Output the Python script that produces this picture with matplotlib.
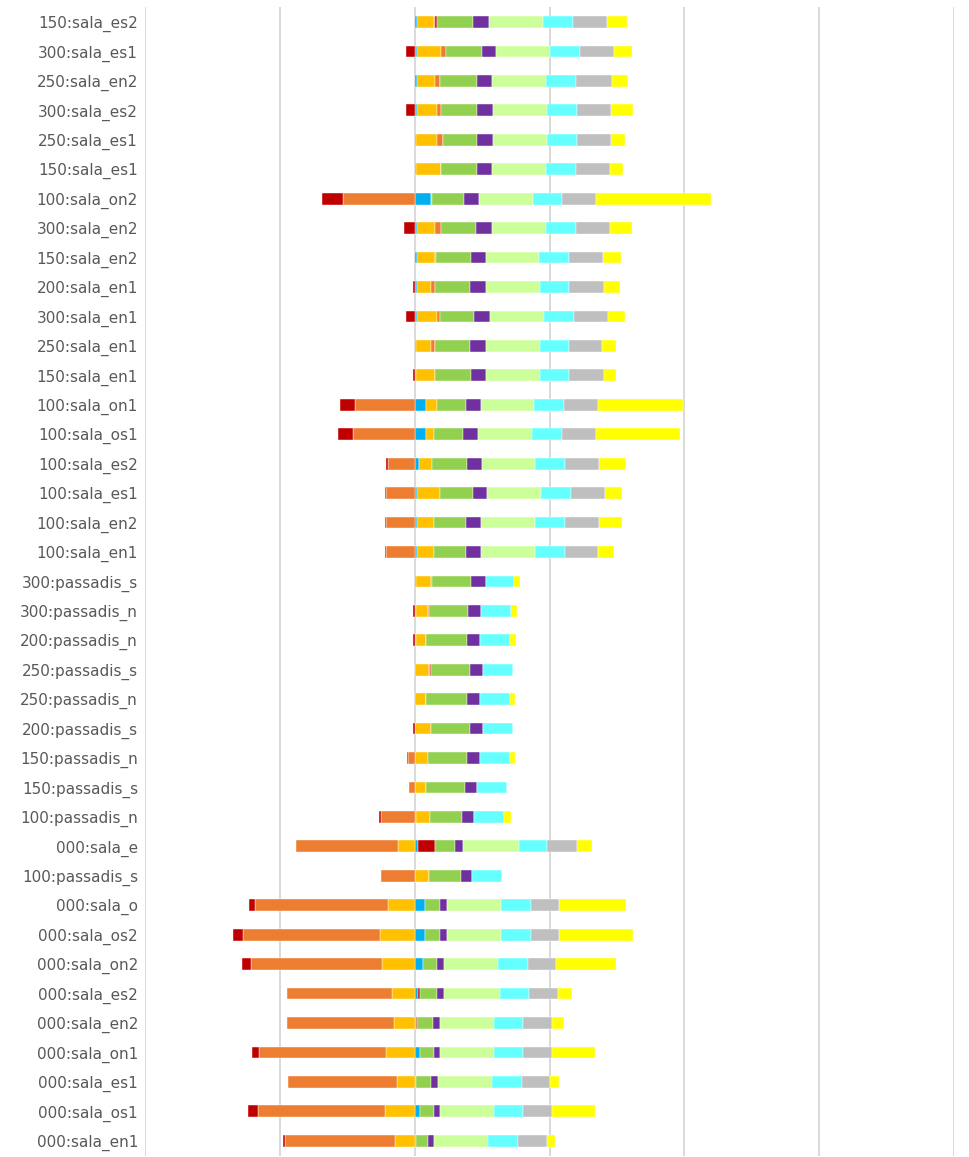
import matplotlib
matplotlib.use("Agg")
import matplotlib.pyplot as plt
import numpy as np

# rows, top to bottom
labels = [
    "150:sala_es2", "300:sala_es1", "250:sala_en2", "300:sala_es2", "250:sala_es1",
    "150:sala_es1", "100:sala_on2", "300:sala_en2", "150:sala_en2", "200:sala_en1",
    "300:sala_en1", "250:sala_en1", "150:sala_en1", "100:sala_on1", "100:sala_os1",
    "100:sala_es2", "100:sala_es1", "100:sala_en2", "100:sala_en1", "300:passadis_s",
    "300:passadis_n", "200:passadis_n", "250:passadis_s", "250:passadis_n", "200:passadis_s",
    "150:passadis_n", "150:passadis_s", "100:passadis_n", "000:sala_e", "100:passadis_s",
    "000:sala_o", "000:sala_os2", "000:sala_on2", "000:sala_es2", "000:sala_en2",
    "000:sala_on1", "000:sala_es1", "000:sala_os1", "000:sala_en1",
]

# series in stacking order (signed values)
s_blue = [0.17, 0.17, 0.17, 0.17, 0.07, 0.07, 1.19, 0.17, 0.17, 0.17,
          0.17, 0.07, 0.07, 0.81, 0.81, 0.30, 0.17, 0.17, 0.17, 0.07,
          0.07, 0.07, 0.0, 0.0, 0.0, 0.0, 0.0, 0.12, 0.22, 0.0,
          0.77, 0.77, 0.62, 0.22, 0.07, 0.42, 0.10, 0.42, 0.10]
s_gold = [1.24, 1.78, 1.36, 1.46, 1.56, 1.88, 0.12, 1.36, 1.31, 1.01,
          1.46, 1.11, 1.43, 0.81, 0.59, 1.01, 1.68, 1.23, 1.23, 1.11,
          0.89, 0.77, 1.06, 0.84, 1.19, 0.96, 0.86, 0.99, -1.23, 1.09,
          -1.98, -2.54, -2.42, -1.65, -1.53, -2.10, -1.31, -2.20, -1.43]
s_orange = [0.10, 0.35, 0.32, 0.32, 0.44, 0.0, -5.33, 0.42, 0.10, 0.32,
            0.22, 0.32, 0.0, -4.44, -4.57, -2.00, -2.10, -2.10, -2.10, 0.10,
            0.10, 0.0, 0.05, 0.0, 0.0, -0.47, -0.42, -2.49, -7.58, -2.52,
            -9.85, -10.17, -9.75, -7.83, -7.95, -9.41, -8.07, -9.41, -8.20]
s_dred = [0.15, -0.65, 0.0, -0.64, 0.0, 0.0, -1.56, -0.77, 0.0, -0.10,
          -0.64, 0.0, -0.10, -1.09, -1.09, -0.12, -0.12, -0.12, -0.12, 0.0,
          -0.10, -0.10, 0.10, 0.0, -0.10, -0.12, 0.0, -0.15, 1.28, 0.0,
          -0.44, -0.77, -0.64, 0.17, 0.10, -0.54, 0.0, -0.77, -0.12]
s_green = [2.69, 2.67, 2.77, 2.67, 2.54, 2.67, 2.32, 2.57, 2.57, 2.57,
           2.54, 2.57, 2.67, 2.22, 2.22, 2.54, 2.44, 2.44, 2.44, 2.89,
           2.89, 3.01, 2.89, 3.01, 2.89, 2.89, 2.86, 2.42, 1.48, 2.37,
           1.11, 1.11, 1.04, 1.26, 1.16, 1.01, 1.11, 1.01, 0.89]
s_purple = [1.19, 1.09, 1.09, 1.21, 1.21, 1.09, 1.11, 1.19, 1.11, 1.21,
            1.21, 1.21, 1.11, 1.11, 1.11, 1.11, 1.11, 1.11, 1.11, 1.11,
            0.99, 0.99, 0.99, 0.99, 0.99, 0.99, 0.89, 0.86, 0.64, 0.77,
            0.54, 0.54, 0.54, 0.54, 0.54, 0.44, 0.54, 0.42, 0.44]
s_lgreen = [4.00, 4.00, 4.02, 4.00, 4.00, 4.02, 4.00, 4.02, 3.98, 3.98,
            4.00, 3.98, 3.98, 3.88, 4.00, 4.00, 3.98, 4.00, 4.00, 0.0,
            0.0, 0.0, 0.0, 0.0, 0.0, 0.0, 0.0, 0.0, 4.10, 0.0,
            3.98, 3.98, 3.98, 4.12, 4.00, 4.00, 4.00, 4.02, 4.00]
s_cyan = [2.22, 2.22, 2.20, 2.22, 2.22, 2.20, 2.22, 2.20, 2.22, 2.22,
          2.22, 2.22, 2.22, 2.22, 2.22, 2.20, 2.22, 2.20, 2.20, 2.10,
          2.22, 2.22, 2.24, 2.22, 2.20, 2.22, 2.22, 2.22, 2.12, 2.22,
          2.22, 2.22, 2.22, 2.20, 2.20, 2.20, 2.22, 2.20, 2.20]
s_gray = [2.54, 2.52, 2.67, 2.54, 2.54, 2.54, 2.52, 2.54, 2.54, 2.54,
          2.54, 2.44, 2.54, 2.52, 2.52, 2.54, 2.54, 2.54, 2.42, 0.0,
          0.0, 0.0, 0.0, 0.0, 0.0, 0.0, 0.0, 0.0, 2.20, 0.0,
          2.10, 2.10, 2.10, 2.10, 2.10, 2.10, 2.07, 2.10, 2.22]
s_yellow = [1.46, 1.33, 1.21, 1.63, 0.99, 1.01, 8.52, 1.65, 1.33, 1.23,
            1.21, 0.99, 0.89, 6.30, 6.20, 2.00, 1.21, 1.65, 1.23, 0.44,
            0.44, 0.44, 0.0, 0.35, 0.0, 0.35, 0.0, 0.57, 1.11, 0.0,
            4.99, 5.46, 4.44, 1.09, 0.89, 3.21, 0.67, 3.21, 0.54]

series = [
    (s_blue, "#00B0F0"),
    (s_gold, "#FFC000"),
    (s_orange, "#ED7D31"),
    (s_dred, "#C00000"),
    (s_green, "#92D050"),
    (s_purple, "#7030A0"),
    (s_lgreen, "#CCFF99"),
    (s_cyan, "#66FFFF"),
    (s_gray, "#BFBFBF"),
    (s_yellow, "#FFFF00"),
]

fig = plt.figure(figsize=(9.69, 11.57), dpi=100)
ax = fig.add_axes([145 / 969, 1.5 / 1157, (954 - 145) / 969, (1157 - 8.8) / 1157])

y = np.arange(len(labels))
pos_left = np.zeros(len(labels))
neg_left = np.zeros(len(labels))
for vals, color in series:
    v = np.array(vals, dtype=float)
    left = np.where(v >= 0, pos_left, neg_left)
    ax.barh(y, v, left=left, height=0.4, color=color, edgecolor="white",
            linewidth=0.3, zorder=3)
    pos_left += np.clip(v, 0, None)
    neg_left += np.clip(v, None, 0)

ax.set_xlim(-20, 40)
ax.set_ylim(len(labels) - 0.5, -0.5)
ax.set_xticks(np.arange(-20, 41, 10))
ax.tick_params(axis="x", length=0, labelbottom=False)
ax.tick_params(axis="y", length=0, pad=5)
ax.set_yticks(y)
ax.set_yticklabels(labels, fontsize=11, color="#595959", family="DejaVu Sans")
ax.grid(True, axis="x", color="#D9D9D9", linewidth=1.4, zorder=0)
ax.set_axisbelow(True)
for s in ax.spines.values():
    s.set_visible(False)

fig.savefig("out.png", dpi=100)
